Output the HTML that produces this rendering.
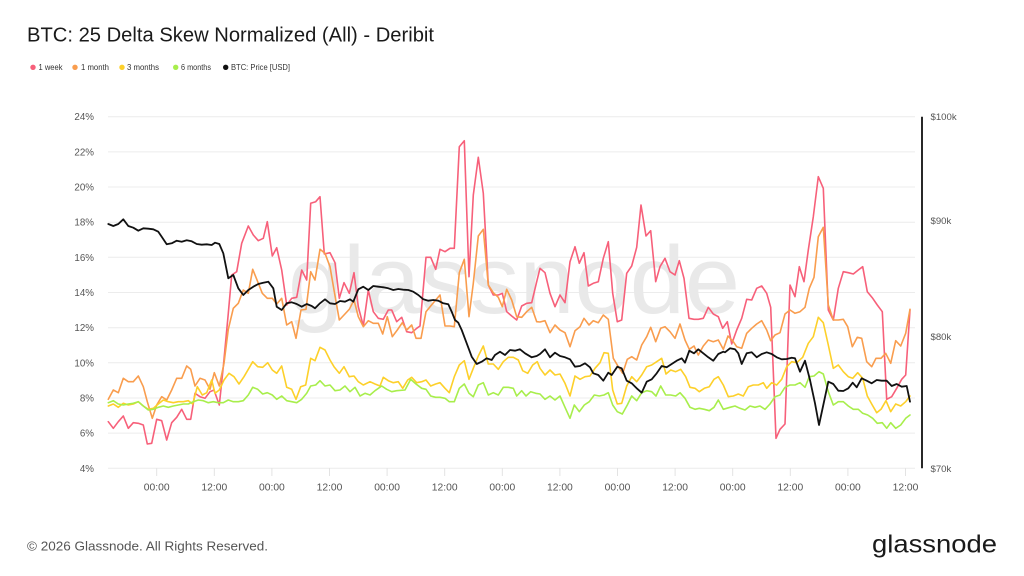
<!DOCTYPE html>
<html>
<head>
<meta charset="utf-8">
<style>
html,body{margin:0;padding:0;background:#fff;}
svg{display:block;}
text{font-family:"Liberation Sans",Arial,sans-serif;}
</style>
</head>
<body>
<svg width="1024" height="576" viewBox="0 0 1024 576" xmlns="http://www.w3.org/2000/svg">
<rect width="1024" height="576" fill="#fff"/>
<!-- Title -->
<text x="27" y="41.5" font-size="20" fill="#1a1a1a" textLength="407" lengthAdjust="spacingAndGlyphs">BTC: 25 Delta Skew Normalized (All) - Deribit</text>
<!-- Legend -->
<g font-size="8.3" fill="#333">
<circle cx="33" cy="67.3" r="2.7" fill="#f7607a"/><text x="38.5" y="70.2" textLength="24" lengthAdjust="spacingAndGlyphs">1 week</text>
<circle cx="75" cy="67.3" r="2.7" fill="#f99d4e"/><text x="81" y="70.2" textLength="28" lengthAdjust="spacingAndGlyphs">1 month</text>
<circle cx="122" cy="67.3" r="2.7" fill="#fdd02a"/><text x="127" y="70.2" textLength="32" lengthAdjust="spacingAndGlyphs">3 months</text>
<circle cx="175.7" cy="67.3" r="2.7" fill="#a8ee4c"/><text x="181" y="70.2" textLength="30" lengthAdjust="spacingAndGlyphs">6 months</text>
<circle cx="225.7" cy="67.3" r="2.7" fill="#111"/><text x="231" y="70.2" textLength="59" lengthAdjust="spacingAndGlyphs">BTC: Price [USD]</text>
</g>
<!-- Grid -->
<g stroke="#ececec" stroke-width="1">
<line x1="108" y1="116.7" x2="915" y2="116.7"/>
<line x1="108" y1="151.9" x2="915" y2="151.9"/>
<line x1="108" y1="187.0" x2="915" y2="187.0"/>
<line x1="108" y1="222.2" x2="915" y2="222.2"/>
<line x1="108" y1="257.3" x2="915" y2="257.3"/>
<line x1="108" y1="292.5" x2="915" y2="292.5"/>
<line x1="108" y1="327.7" x2="915" y2="327.7"/>
<line x1="108" y1="362.8" x2="915" y2="362.8"/>
<line x1="108" y1="398.0" x2="915" y2="398.0"/>
<line x1="108" y1="433.1" x2="915" y2="433.1"/>
<line x1="108" y1="468.3" x2="915" y2="468.3"/>
</g>
<!-- x ticks -->
<g stroke="#e3e3e3" stroke-width="1">
<line x1="156.7" y1="468" x2="156.7" y2="476"/>
<line x1="214.3" y1="468" x2="214.3" y2="476"/>
<line x1="271.9" y1="468" x2="271.9" y2="476"/>
<line x1="329.5" y1="468" x2="329.5" y2="476"/>
<line x1="387.1" y1="468" x2="387.1" y2="476"/>
<line x1="444.7" y1="468" x2="444.7" y2="476"/>
<line x1="502.3" y1="468" x2="502.3" y2="476"/>
<line x1="559.9" y1="468" x2="559.9" y2="476"/>
<line x1="617.5" y1="468" x2="617.5" y2="476"/>
<line x1="675.1" y1="468" x2="675.1" y2="476"/>
<line x1="732.7" y1="468" x2="732.7" y2="476"/>
<line x1="790.3" y1="468" x2="790.3" y2="476"/>
<line x1="847.9" y1="468" x2="847.9" y2="476"/>
<line x1="905.5" y1="468" x2="905.5" y2="476"/>
</g>
<!-- Left axis labels -->
<g font-size="9.8" fill="#555" text-anchor="end">
<text x="94" y="120.2">24%</text>
<text x="94" y="155.4">22%</text>
<text x="94" y="190.5">20%</text>
<text x="94" y="225.7">18%</text>
<text x="94" y="260.8">16%</text>
<text x="94" y="296.0">14%</text>
<text x="94" y="331.2">12%</text>
<text x="94" y="366.3">10%</text>
<text x="94" y="401.5">8%</text>
<text x="94" y="436.6">6%</text>
<text x="94" y="471.8">4%</text>
</g>
<!-- X labels -->
<g font-size="10.3" fill="#555" text-anchor="middle">
<text x="156.7" y="490.5">00:00</text>
<text x="214.3" y="490.5">12:00</text>
<text x="271.9" y="490.5">00:00</text>
<text x="329.5" y="490.5">12:00</text>
<text x="387.1" y="490.5">00:00</text>
<text x="444.7" y="490.5">12:00</text>
<text x="502.3" y="490.5">00:00</text>
<text x="559.9" y="490.5">12:00</text>
<text x="617.5" y="490.5">00:00</text>
<text x="675.1" y="490.5">12:00</text>
<text x="732.7" y="490.5">00:00</text>
<text x="790.3" y="490.5">12:00</text>
<text x="847.9" y="490.5">00:00</text>
<text x="905.5" y="490.5">12:00</text>
</g>
<!-- Right axis -->
<line x1="922" y1="116.7" x2="922" y2="468.3" stroke="#111" stroke-width="1.8"/>
<g font-size="9.6" fill="#555">
<text x="930.5" y="120.2">$100k</text>
<text x="930.5" y="224.1">$90k</text>
<text x="930.5" y="340.2">$80k</text>
<text x="930.5" y="471.8">$70k</text>
</g>
<!-- Watermark -->
<text x="288" y="313" font-size="96" fill="#e9e9e9" textLength="452" lengthAdjust="spacingAndGlyphs">glassnode</text>
<!-- Series -->
<g fill="none" stroke-width="1.6" stroke-linejoin="round" stroke-linecap="round">
<polyline stroke="#f7607a" points="108.3,421.7 113.3,428.3 118.3,421.7 123.3,416 128.3,428.3 133.3,422.7 138.3,423.3 143.3,425 147.3,444 151.7,443.3 156.7,419.3 161.7,420.7 166.7,440 171.7,422.7 176.7,417.3 181.7,409.3 186.7,419.3 190.7,419.3 195,393.3 200,396.7 205,398.3 210,391.7 214,390 219.3,405 223.3,366.7 228.3,313.3 231.7,275 236.7,271.7 241.7,243.3 248.3,226 253.3,235 258.3,240.7 263.3,238.3 267.3,221.7 272.3,256 276.7,247.7 281.7,270 286.7,305 291.7,298.3 296.7,297.3 301.7,270 306.7,280 310.7,203.3 315.7,201.7 320,196.7 324.3,254 330,252.7 335,262.7 339.3,298.3 344,282.7 349.3,293.3 354,272.7 358.3,306.7 363.3,326 368.3,290 373.3,311.7 378.3,318.3 383.3,319.3 388.3,310 391.7,310 396.7,321.7 401.7,317.3 406.7,331.7 411.7,332.7 416.7,328.3 420,326 426,257.3 430.7,257.3 435.7,269.3 440,249.3 445,251.7 450,248.3 454.3,248.3 459.3,146.7 464.3,140.7 469,276.7 473.3,195 478.3,157.3 483.3,193.3 488.3,285 493.3,295 498.3,295 502.3,293.3 506.7,311.7 511.7,316 516.7,320 521.7,306 526.7,303.3 531.7,302.7 536.7,281.7 540,268.3 545,272.7 550,293.3 555,306.7 560,295 565,302.7 570,261.7 575,246.7 579.3,263.3 584,252.7 588.3,286 593.3,283.3 598.3,281.7 603.3,258.3 608.3,241.7 612.7,293.3 617.3,321.7 621.7,320 626.7,273.3 631.7,266 636.7,247.3 641,205 646,236 650.7,230.7 655.7,281.7 660,266.7 665,258.3 670,271.7 675,275 679.3,260.7 684,278.3 689,318.3 694,319.3 698.3,319.3 703.3,318.3 708.3,307.3 713.3,314 718.3,316.7 722.7,328.3 727.3,321.7 731.7,344 736.7,330 741.7,318.3 746.7,299.3 751.7,300 756.7,288.3 761.7,286 766.7,293.3 770.7,307.3 776,438.3 780,429.3 785,424 790,285 795,296.7 799.3,266.7 804,281.7 808.3,250 813.3,216.7 818.3,176.7 823.3,188.3 828.3,310 833.3,320 838.3,288.3 843.3,271.7 848.3,272.7 853.3,274 858.3,270 862.7,266.7 867.3,291.7 872.7,298.3 877.3,305 882.3,311.7 886.7,399.3 891.7,396.7 896.7,388.3 901.7,379.3 905.7,375 910,310"/>
<polyline stroke="#f99d4e" points="108.3,399.3 113.3,390 118.3,392.7 123.3,378.3 128.3,381.7 133.3,381.7 138.3,376 143.3,386.7 147.3,401.7 152.3,418.3 156.7,405 161.7,396.7 166.7,400 171.7,390 176.7,378.3 181.7,378.3 186.7,366 190.7,369.3 195,386 200,378.3 205,380 210,389.3 214.3,372.7 219.3,386 224,363.3 228.3,329.3 233.3,308.3 238.3,303.3 243.3,290 248.3,293.3 252.7,269.3 257.7,281.7 262.3,293.3 267.3,298.3 272.3,298.3 276.7,304 281.7,298.3 286.7,325 291.7,321.7 296,338.3 301,310 306,309.3 310.7,271.7 315,280 320,249.3 325,253.3 330,266.7 334,290 339.3,320 344,315 349.3,309.3 354,300 358.3,316.7 363.3,326.7 368.3,320.7 373.3,323.3 378.3,323.3 382.7,334 387.3,316.7 392.3,336.7 397.3,330 402.3,322.7 406.7,330 411.7,325 416,338.3 421,338.3 426,311.7 430.7,306 435.7,300 440,295 445,326 450,326 454.3,326.7 459.3,272.7 464.3,259.3 469,316.7 473.3,283.3 478.3,236 483.3,229.3 488.3,285 493.3,292.7 498.3,297.3 502.3,306.7 506.7,289.3 511.7,300 516.7,316.7 521.7,317.3 526.7,311.7 531.7,307.3 536.7,321.7 540,322 545,320.7 550,332.7 555,325 560,330 565,332.7 570,346.7 575,330.7 580,326.7 584,318.3 589,325 593.3,320.7 598.3,322.7 603.3,315 608.3,319.3 613.3,358.3 618.3,366.7 622.7,373.3 627.3,359.3 631.7,356.7 636.7,360 641.7,345 646.7,336.7 650.7,327.3 655.7,341.7 660.7,328.3 665,326.7 670,331.7 675,338.3 680,324 685,340 689.3,349.3 694,346 698.3,355 703.3,346 708.3,340 713.3,341.7 718.3,340 723.3,349.3 728,336 733.3,341.7 736.7,346.7 741.7,348.3 746.7,333.3 751.7,328.3 756.7,324 761.7,320.7 766.7,330 770.7,340.7 775,335 780,332.7 785,314 790,310 795,313.3 800,311.7 805,307.3 809.3,288.3 814,277.3 818.3,236.7 823.3,227.3 828.3,305 833.3,320 838.3,320 843.3,319.3 847.7,326.7 852.3,346.7 857.3,337.3 861.7,338.3 866.7,361.7 871.7,366.7 876,358.3 881,358.3 885.7,353.3 890.7,363.3 895.7,340.7 900.7,346 905.7,333.3 910,309.3"/>
<polyline stroke="#fdd02a" points="108.3,406 113.3,404 118.3,407.3 123.3,403.3 128.3,405 133.3,404 138.3,401.7 143.3,406 148.3,409.3 153.3,408.3 158.3,404 163.3,400 168.3,401.7 173.3,402.7 178.3,401.7 183.3,401.7 188.3,400.7 192.7,404 197.3,386.7 202.3,395 206.7,392.7 211.7,380 215,393.3 219.3,390 224,380 229,373.3 234,376.7 239,384 244,376.7 248.3,369.3 252.7,361.7 257.7,366.7 262.7,367.3 267.7,362.7 272.3,370 276.7,373.3 281.7,366 286.7,387.3 291.7,389.3 296,399.3 300.7,386.7 305.7,385 310.7,358.3 315,360.7 320,347.3 325,350 330,360 334,366.7 339.3,373.3 344,366.7 349.3,376.7 354,376 358.3,381.7 363.3,385 370,381.7 375,384 380,386 383.3,377.3 388.3,380.7 393.3,382.7 398.3,381.7 402.7,388.3 407.7,380 411.7,377.3 416.7,382.7 421.7,381.7 426,380 430.7,386 435.7,384 440,382.7 445,388.3 449.3,392.7 454.3,376.7 459.3,365 464.3,360.7 469,379.3 473.3,368.3 478.3,356 483.3,346 488.3,364 493.3,364 498.3,369.3 503.3,361.7 508.3,357.3 513.3,357.3 518.3,360 522.7,370.7 527.7,373.3 532.7,365 537.3,361.7 540,368.3 545,375 550,370 555,375 560,374 565,383.3 570,396 575,376 580,379.3 585,376.7 590,376 595,368.3 600,362.7 604,352.7 608.3,353.3 612.7,390 617.3,404 621.7,403.3 626.7,386 631.7,376.7 636.7,381.7 641.7,375 646.7,366.7 651.7,365 656.7,361.7 661.7,358.3 666,374 670.7,370 675.7,371.7 680.7,369.3 685.7,376.7 690,387.3 695,388.3 699.3,391.7 704.3,388.3 709.3,386.7 714,379.3 718.3,376.7 723.3,385 728.3,396.7 733.3,396 738.3,394 743.3,396 748.3,386.7 753.3,385 758.3,385 763.3,382.7 766.7,388.3 771.7,382.7 776.7,385 781.7,379.3 786.7,366.7 791.7,361.7 796.7,362.7 802.7,357.3 808.3,343.3 813.3,336.7 818.3,317.3 823.3,322.7 828.3,345 833.3,368.3 838.3,365 843.3,371.7 848.3,376.7 852.7,378.3 857.7,372.7 862.7,378.3 867.3,396 871.7,404 876.7,412.7 881,409.3 886,400.7 890.7,411.7 895.7,404 900.7,406 905.7,401.7 910,396"/>
<polyline stroke="#a8ee4c" points="108.3,402.7 113.3,400.7 118.3,404 123.3,405 128.3,404 133.3,403.3 138.3,401.7 143.3,406 148.3,410 153.3,409.3 158.3,407.3 163.3,406 168.3,407.3 173.3,406 178.3,405 183.3,404 188.3,404 193.3,401.7 198.3,400 203.3,400.7 208.3,402.7 213.3,401.7 218.3,402.7 223.3,402.7 228.3,400 233.3,401.7 238.3,401.7 243.3,400.7 248.3,395 252.7,387.3 257.7,389.3 262.7,394 267.3,392.7 272.3,395 276.7,399.3 281.7,396 286.7,400.7 291.7,401.7 296.7,402.7 301.7,399.3 306.7,393.3 310.7,386 315.7,385 320,380.7 325,386 330,385 335,390.7 340,390 345,386 350,391.7 355,387.3 360,396 365,393.3 370,395 375,390.7 381.7,386 386.7,389.3 391.7,391.7 396.7,390.7 405,390 410.7,379.3 416,384 421.7,388.3 426,389.3 430.7,396 435.7,397.3 440,397.3 445,398.3 449.3,401.7 454.3,401.7 459.3,388.3 464.3,384 469,393.3 473.3,396.7 478.3,385 483.3,382.7 488.3,395 493.3,392.7 498.3,395 503.3,387.3 508.3,387.3 513.3,388.3 516.7,396 521.7,390.7 526,396 530.7,391.7 535.7,393.3 540,394 545,399.3 550,396 555,400 560,396 565,407.3 570,418.3 574.3,405 579.3,411.7 584.3,405 589.3,401.7 594.3,395 599.3,396 604,395 608.3,392.7 612.7,405 617.3,411.7 622.3,414 627.3,405 631.7,396 636.7,400.7 641.7,392.7 646.7,390.7 651.7,391.7 656,396 660.7,386 665.7,395 670.7,395 675.7,396 680,392.7 685,398.3 690,407.3 695,409.3 699.3,408.3 704.3,409.3 709.3,410.7 714,407.3 718.3,400 723.3,409.3 730,407.3 735,406 740,408.3 745,410 750,406 755,407.3 760,406 765,409.3 770,404 775,396.7 780,395 785,387.3 790,385 795,385 800,382.7 805,387.3 809.3,376.7 814,376 819,371.7 823.3,374 828.3,391.7 833.3,405 838.3,401.7 843.3,401.7 848.3,406 853.3,409.3 858.3,409.3 862.7,413.3 867.7,415 872.7,418.3 877.3,423.3 882.3,422.7 886.7,428.3 890.7,422.7 895.7,428.3 900.7,425 905.7,418.3 910,415"/>
<polyline stroke="#111" stroke-width="1.8" points="108.3,224 113.3,226 118.3,224 123.3,219.3 128.3,226 133.3,227.7 138.3,230.7 143.3,228.3 148.3,228.7 153.3,229.3 158.3,231.7 161.7,236.7 166.7,244.3 171.7,243.3 176.7,240.7 181.7,241.7 186.7,240.3 191.7,241.3 196.7,244 201.7,244.7 206.7,244.3 211.7,245 215,242.7 219.3,244 223.3,253.3 228.3,278.3 233.3,275 238.3,288.3 243.3,295 248.3,290 253.3,286.7 258.3,284 263.3,282.7 268.3,281.7 273.3,288.3 276.7,306.7 281.7,310 286.7,303.3 291.7,302.3 296.7,304 301.7,306.7 306.7,304 311.7,306 315,308.3 320,303.3 325,299.3 330,303.3 335,304 340,301 345,301.7 350,299.3 353.3,301.7 358.3,289.3 363.3,286.7 368.3,290 373.3,286 378.3,286.7 383.3,287.3 388.3,288.3 393.3,290 398.3,289 403.3,289.7 408.3,290 413.3,291.7 418.3,295 423.3,299.3 428.3,300.7 433.3,300 438.3,300.7 443.3,303.3 448.3,304.3 451.7,311.7 455,320 458.3,322.7 461.7,330 466.7,343.3 471.7,356.7 476.7,364 481.7,361.7 486.7,358.3 491.7,360 495,355 500,351.7 505,355 510,350 515,350.7 520,349.3 525,353.3 531.7,357.3 536.7,356 540,354 545,349.3 550,357.3 555,352.7 560,356 565,357.3 570,359.3 575,366.7 580,366 585,363.3 590,367.3 593.3,373.3 598.3,375 603.3,380.7 608.3,372.7 611.7,375 617.3,366.7 621.7,368.3 626.7,380.7 631.7,383.3 636.7,388.3 641.7,392.7 646.7,381.7 651.7,379.3 656.7,373.3 661.7,366 666.7,367.3 671.7,364 676.7,360.7 681.7,358.3 685,362.7 689.3,350.7 694,353.3 698.3,349.3 703.3,353.3 708.3,357.3 713.3,360.7 718.3,354 723.3,351.7 725,352.3 730,348.3 735,349.3 738.3,353.3 741.7,364 746.7,353.3 751.7,352.3 756.7,357.3 761.7,354 766.7,352.3 771.7,354 776.7,357.3 781.7,359.3 786.7,359 791.7,357.7 795,358.3 800,371.7 805,360.7 810,380 815,403.3 819,425 823.3,405 828.3,381.7 833.3,384 838.3,390.7 843.3,391 848.3,388.3 852.7,382.7 856.7,387.3 861.7,378.3 866.7,380.7 871.7,383.3 876.7,380 881.7,380.7 886.7,380.7 891.7,386 896.7,384 901.7,386.7 906.7,386 910,401.7"/>
</g>
<!-- Footer -->
<text x="27" y="550.5" font-size="13" fill="#555" textLength="241" lengthAdjust="spacingAndGlyphs">© 2026 Glassnode. All Rights Reserved.</text>
<text x="872" y="552.5" font-size="25" fill="#1a1a1a" textLength="125" lengthAdjust="spacingAndGlyphs">glassnode</text>
</svg>
</body>
</html>
